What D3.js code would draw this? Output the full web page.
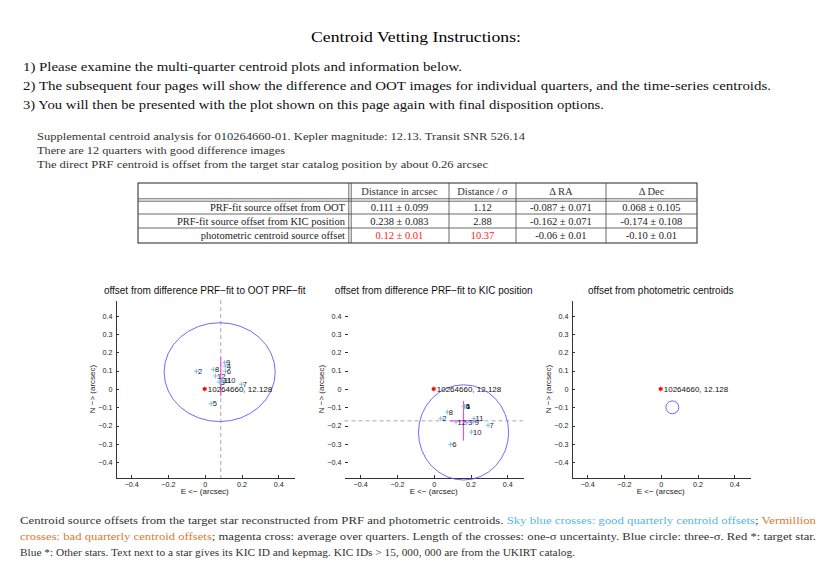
<!DOCTYPE html>
<html lang="en">
<head>
    <meta charset="UTF-8">
    <title>Centroid Vetting Instructions</title>
    <script src="https://d3js.org/d3.v7.min.js"></script>
    <style>
        body { margin: 0; background: #fff; }
        .serif { font-family: "Liberation Serif", "DejaVu Serif", serif; }
        .sans { font-family: "Liberation Sans", Arial, sans-serif; }
        .axis path, .axis line { stroke: #333; shape-rendering: crispEdges; }
        .axis text { fill: #222; }
    </style>
</head>
<body>
<div id="page"></div>
<script>
    // ---- text content ----
    const pageTitle = "Centroid Vetting Instructions:";
    const instructions = [
        "1) Please examine the multi-quarter centroid plots and information below.",
        "2) The subsequent four pages will show the difference and OOT images for individual quarters, and the time-series centroids.",
        "3) You will then be presented with the plot shown on this page again with final disposition options."
    ];
    const supplemental = [
        "Supplemental centroid analysis for 010264660-01. Kepler magnitude: 12.13. Transit SNR 526.14",
        "There are 12 quarters with good difference images",
        "The direct PRF centroid is offset from the target star catalog position by about 0.26 arcsec"
    ];

    // ---- table ----
    const tableHeader = ["", "Distance in arcsec", "Distance / \u03c3", "\u0394 RA", "\u0394 Dec"];
    const rowLabels = ["PRF-fit source offset from OOT", "PRF-fit source offset from KIC position", "photometric centroid source offset"];
    const distArcsec = ["0.111 \u00b1 0.099", "0.238 \u00b1 0.083", "0.12 \u00b1 0.01"];
    const distSigma = ["1.12", "2.88", "10.37"];
    const deltaRA = ["-0.087 \u00b1 0.071", "-0.162 \u00b1 0.071", "-0.06 \u00b1 0.01"];
    const deltaDec = ["0.068 \u00b1 0.105", "-0.174 \u00b1 0.108", "-0.10 \u00b1 0.01"];
    const flagged = [false, false, true];

    // ---- panels ----
    const panelTitles = [
        "offset from difference PRF\u2212fit to OOT PRF\u2212fit",
        "offset from difference PRF\u2212fit to KIC position",
        "offset from photometric centroids"
    ];
    const xTicks = [-0.4, -0.2, 0, 0.2, 0.4];
    const yTicks = [-0.4, -0.3, -0.2, -0.1, 0, 0.1, 0.2, 0.3, 0.4];
    const targetLabel = "10264660, 12.128";
    const targetPos = [0, 0];

    // quarterly offsets, panel 1 and panel 2 (none on panel 3)
    const q1Labels = ["2", "8", "9", "4", "6", "12", "3", "11", "10", "7", "5", "1"];
    const q1X = [-0.045, 0.047, 0.107, 0.112, 0.112, 0.058, 0.078, 0.093, 0.113, 0.199, 0.035, 0.095];
    const q1Y = [0.097, 0.106, 0.144, 0.124, 0.097, 0.071, 0.038, 0.046, 0.046, 0.026, -0.080, 0.046];
    const q2Labels = ["4", "1", "8", "2", "11", "12", "3", "9", "10", "7", "6", "5"];
    const q2X = [0.166, 0.168, 0.074, 0.038, 0.219, 0.121, 0.178, 0.214, 0.205, 0.295, 0.092, 0.166];
    const q2Y = [-0.096, -0.094, -0.126, -0.162, -0.162, -0.180, -0.184, -0.180, -0.235, -0.198, -0.302, -0.096];

    // average offsets (magenta cross) and sigma
    const meanX = [0.087, 0.162, null];
    const meanY = [0.068, -0.174, null];
    const sigX = [0, 0.074, null];
    const sigY = [0.105, 0.108, null];
    // three-sigma circles (centre, radii)
    const circX = [0.081, 0.162, 0.063];
    const circY = [0.092, -0.237, -0.100];
    const circRX = [0.302, 0.245, 0.035];
    const circRY = [0.270, 0.260, 0.035];

    const W = 830, H = 587;
    const svg = d3.select("#page").append("svg")
        .attr("width", W).attr("height", H)
        .style("display", "block");
    svg.append("rect").attr("width", W).attr("height", H).attr("fill", "#fff");

    // title + instructions
    svg.append("text").attr("class", "serif")
        .attr("x", 416).attr("y", 42)
        .attr("text-anchor", "middle")
        .attr("font-size", 15)
        .attr("textLength", 210).attr("lengthAdjust", "spacingAndGlyphs")
        .text(pageTitle);

    const instrWidths = [439, 748, 581];
    instructions.forEach((t, i) => {
        svg.append("text").attr("class", "serif")
            .attr("x", 23).attr("y", 71 + i * 19)
            .attr("font-size", 12.5)
            .attr("fill", "#111")
            .attr("textLength", instrWidths[i]).attr("lengthAdjust", "spacingAndGlyphs")
            .text(t);
    });

    const suppWidths = [488, 248, 451];
    supplemental.forEach((t, i) => {
        svg.append("text").attr("class", "serif")
            .attr("x", 37).attr("y", 140 + i * 14)
            .attr("font-size", 10.5)
            .attr("fill", "#333")
            .attr("textLength", suppWidths[i]).attr("lengthAdjust", "spacingAndGlyphs")
            .text(t);
    });

    // table
    const colX = [138, 350, 449, 516, 606, 697];
    const rowY = [183, 200, 214, 228, 243];
    const tbl = svg.append("g").attr("class", "serif").attr("font-size", 10.5);
    tbl.append("rect")
        .attr("x", colX[0]).attr("y", rowY[0])
        .attr("width", colX[5] - colX[0]).attr("height", rowY[4] - rowY[0])
        .attr("fill", "none").attr("stroke", "#222");
    // double lines
    [-1.2, 1.2].forEach(o => {
        tbl.append("line").attr("x1", colX[1] + o).attr("x2", colX[1] + o)
            .attr("y1", rowY[0]).attr("y2", rowY[4]).attr("stroke", "#444").attr("stroke-width", 0.8);
        tbl.append("line").attr("x1", colX[0]).attr("x2", colX[5])
            .attr("y1", rowY[1] + o).attr("y2", rowY[1] + o).attr("stroke", "#444").attr("stroke-width", 0.8);
    });
    colX.slice(2, 5).forEach(cx => {
        tbl.append("line").attr("x1", cx).attr("x2", cx)
            .attr("y1", rowY[0]).attr("y2", rowY[4]).attr("stroke", "#444").attr("stroke-width", 0.8);
    });
    rowY.slice(2, 4).forEach(ry => {
        tbl.append("line").attr("x1", colX[0]).attr("x2", colX[5])
            .attr("y1", ry).attr("y2", ry).attr("stroke", "#444").attr("stroke-width", 0.8);
    });
    tableHeader.forEach((h, j) => {
        if (!h) return;
        tbl.append("text")
            .attr("x", (colX[j] + colX[j + 1]) / 2).attr("y", rowY[0] + 12)
            .attr("text-anchor", "middle").attr("fill", "#333").text(h);
    });
    const cols = [distArcsec, distSigma, deltaRA, deltaDec];
    rowLabels.forEach((lab, i) => {
        const y = rowY[i + 1] + 11;
        tbl.append("text").attr("x", colX[1] - 5).attr("y", y)
            .attr("text-anchor", "end").attr("fill", "#222").text(lab);
        cols.forEach((col, j) => {
            tbl.append("text")
                .attr("x", (colX[j + 1] + colX[j + 2]) / 2).attr("y", y)
                .attr("text-anchor", "middle")
                .attr("fill", flagged[i] && j < 2 ? "#ff2020" : "#222")
                .text(col[i]);
        });
    });

    // panels
    const panelLeft = [115.5, 344.5, 571.5];
    const pw = 178.5, pTop = 300, pBottom = 478;
    const fmt = d3.format("~g");
    const quarters = [
        { labels: q1Labels, xs: q1X, ys: q1Y },
        { labels: q2Labels, xs: q2X, ys: q2Y },
        { labels: [], xs: [], ys: [] }
    ];

    panelTitles.forEach((title, p) => {
        const x = d3.scaleLinear().domain([-0.485, 0.485]).range([panelLeft[p], panelLeft[p] + pw]);
        const y = d3.scaleLinear().domain([-0.486, 0.486]).range([pBottom, pTop]);
        const g = svg.append("g").attr("class", "sans");

        // reference dashed lines through the average offset
        if (p === 0) {
            g.append("line").attr("x1", x(meanX[p])).attr("x2", x(meanX[p]))
                .attr("y1", pTop).attr("y2", pBottom)
                .attr("stroke", "#aaa").attr("stroke-dasharray", "4,3");
        }
        if (p === 1) {
            g.append("line").attr("x1", panelLeft[p]).attr("x2", panelLeft[p] + pw)
                .attr("y1", y(meanY[p])).attr("y2", y(meanY[p]))
                .attr("stroke", "#aaa").attr("stroke-dasharray", "4,3");
        }

        const gx = g.append("g").attr("class", "axis")
            .attr("transform", `translate(0,${pBottom})`)
            .call(d3.axisBottom(x).tickValues(xTicks).tickFormat(fmt)
                .tickSizeInner(-3).tickSizeOuter(0).tickPadding(4));
        gx.selectAll("text").attr("font-size", 7.2).attr("font-family", null);

        const gy = g.append("g").attr("class", "axis")
            .attr("transform", `translate(${panelLeft[p]},0)`)
            .call(d3.axisLeft(y).tickValues(yTicks).tickFormat(fmt)
                .tickSizeInner(-3).tickSizeOuter(0).tickPadding(3));
        gy.selectAll("text").attr("font-size", 7.2).attr("font-family", null);
        if (p === 1) gy.select(".domain").remove();

        g.append("text").attr("x", panelLeft[p] + pw / 2).attr("y", 294)
            .attr("text-anchor", "middle").attr("font-size", 10).attr("fill", "#111")
            .text(title);
        g.append("text").attr("x", panelLeft[p] + pw / 2).attr("y", 494)
            .attr("text-anchor", "middle").attr("font-size", 8).attr("fill", "#222")
            .text("E <\u2212 (arcsec)");
        g.append("text")
            .attr("transform", `translate(${panelLeft[p] - 21},${(pTop + pBottom) / 2}) rotate(-90)`)
            .attr("text-anchor", "middle").attr("font-size", 8).attr("fill", "#222")
            .text("N \u2212> (arcsec)");

        // three-sigma circle
        g.append("ellipse")
            .attr("cx", x(circX[p])).attr("cy", y(circY[p]))
            .attr("rx", x(circRX[p]) - x(0)).attr("ry", y(0) - y(circRY[p]))
            .attr("fill", "none").attr("stroke", "#5a5aff").attr("stroke-width", 0.9);

        // magenta average cross
        if (meanX[p] !== null) {
            g.append("line").attr("x1", x(meanX[p] - sigX[p])).attr("x2", x(meanX[p] + sigX[p]))
                .attr("y1", y(meanY[p])).attr("y2", y(meanY[p]))
                .attr("stroke", "#ff33ff").attr("stroke-width", 1);
            g.append("line").attr("x1", x(meanX[p])).attr("x2", x(meanX[p]))
                .attr("y1", y(meanY[p] - sigY[p])).attr("y2", y(meanY[p] + sigY[p]))
                .attr("stroke", "#ff33ff").attr("stroke-width", 1);
        }

        // quarterly offsets
        const q = quarters[p];
        q.labels.forEach((lab, i) => {
            const px = x(q.xs[i]), py = y(q.ys[i]);
            g.append("path")
                .attr("d", `M${px - 2.5},${py}H${px + 2.5}M${px},${py - 2.5}V${py + 2.5}`)
                .attr("stroke", "#6cbdf0").attr("stroke-width", 0.9);
            g.append("text").attr("x", px + 1.5).attr("y", py + 2.7)
                .attr("font-size", 7.6).attr("fill", "#222").text(lab);
        });

        // target star
        const sx = x(targetPos[0]), sy = y(targetPos[1]);
        g.append("path")
            .attr("transform", `translate(${sx},${sy})`)
            .attr("d", d3.symbol(d3.symbolAsterisk, 14)())
            .attr("stroke", "#ff0000").attr("stroke-width", 1.2).attr("fill", "none");
        g.append("text").attr("x", sx + 3).attr("y", sy + 3)
            .attr("font-size", 8).attr("fill", "#111").text(targetLabel);
    });

    // caption
    const capLines = [
        [["Centroid source offsets from the target star reconstructed from PRF and photometric centroids. ", "#333"],
         ["Sky blue crosses: good quarterly centroid offsets", "#56b4e9"], ["; ", "#333"], ["Vermillion", "#e0782e"]],
        [["crosses: bad quarterly centroid offsets", "#e0782e"],
         ["; magenta cross: average over quarters. Length of the crosses: one-\u03c3 uncertainty. Blue circle: three-\u03c3. Red *: target star.", "#333"]],
        [["Blue *: Other stars. Text next to a star gives its KIC ID and kepmag. KIC IDs > 15, 000, 000 are from the UKIRT catalog.", "#333"]]
    ];
    const capWidths = [796, 796, 555];
    capLines.forEach((segs, i) => {
        const t = svg.append("text").attr("class", "serif")
            .attr("x", 20).attr("y", 524 + i * 16)
            .attr("font-size", 10.5)
            .attr("textLength", capWidths[i]).attr("lengthAdjust", "spacingAndGlyphs");
        segs.forEach(([s, c]) => t.append("tspan").attr("fill", c).text(s));
    });
</script>
</body>
</html>
